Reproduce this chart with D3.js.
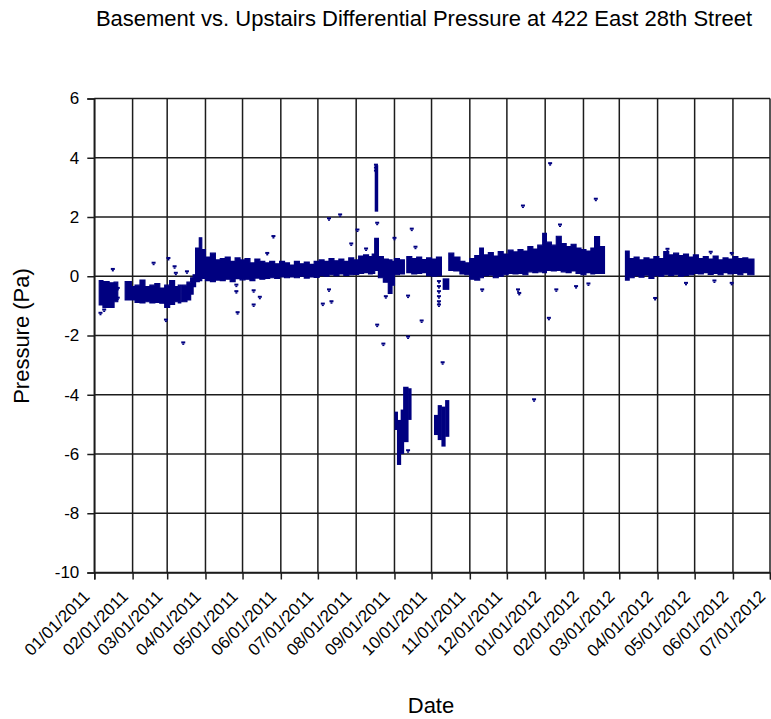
<!DOCTYPE html>
<html>
<head>
<meta charset="utf-8">
<script src="https://cdn.jsdelivr.net/npm/d3@7"></script>
<style>
  html, body { margin: 0; padding: 0; background: #fff; }
  svg { display: block; font-family: Arial, "Liberation Sans", sans-serif; }
</style>
</head>
<body>
<svg id="chart" width="771" height="719"></svg>
<script>
// ---------------- DATA ----------------
const chartTitle = "Basement vs. Upstairs Differential Pressure at 422 East 28th Street";
const yTitle = "Pressure (Pa)";
const xTitle = "Date";
const yTicks = [6, 4, 2, 0, -2, -4, -6, -8, -10];

// main data band: each entry spans until the next date; null = no data
const bandDates = [
  "2011-01-05","2011-01-08","2011-01-13","2011-01-17","2011-01-20",
  "2011-01-26","2011-01-31","2011-02-03","2011-02-07","2011-02-11","2011-02-15","2011-02-19","2011-02-23","2011-02-27",
  "2011-03-03","2011-03-07","2011-03-10","2011-03-12",
  "2011-03-13","2011-03-17","2011-03-20","2011-03-22","2011-03-24","2011-03-27","2011-03-29",
  "2011-04-01","2011-04-05","2011-04-09","2011-04-13","2011-04-17","2011-04-21","2011-04-25","2011-04-29",
  "2011-05-03","2011-05-07","2011-05-11","2011-05-15","2011-05-19","2011-05-23","2011-05-27","2011-05-31",
  "2011-06-04","2011-06-08","2011-06-12","2011-06-16","2011-06-20","2011-06-24","2011-06-28",
  "2011-07-02","2011-07-06","2011-07-10","2011-07-14","2011-07-18","2011-07-22","2011-07-26","2011-07-30",
  "2011-08-03","2011-08-07","2011-08-11","2011-08-14","2011-08-16","2011-08-19","2011-08-23","2011-08-27","2011-08-30",
  "2011-09-01","2011-09-05","2011-09-09",
  "2011-09-11","2011-09-15","2011-09-19","2011-09-23","2011-09-27",
  "2011-10-01","2011-10-05","2011-10-09",
  "2011-10-15","2011-10-19","2011-10-24","2011-10-28",
  "2011-11-01","2011-11-05","2011-11-09","2011-11-12","2011-11-16","2011-11-20","2011-11-24","2011-11-28",
  "2011-12-02","2011-12-06","2011-12-10","2011-12-14","2011-12-18","2011-12-22","2011-12-26","2011-12-30",
  "2012-01-02","2012-01-06","2012-01-10","2012-01-14","2012-01-18","2012-01-22","2012-01-26","2012-01-30",
  "2012-02-03","2012-02-07","2012-02-10","2012-02-14","2012-02-18",
  "2012-03-06","2012-03-09","2012-03-13","2012-03-17","2012-03-21","2012-03-25","2012-03-29",
  "2012-04-02","2012-04-06","2012-04-10","2012-04-14","2012-04-18","2012-04-22","2012-04-26","2012-04-30",
  "2012-05-04","2012-05-08","2012-05-12","2012-05-16","2012-05-20","2012-05-24","2012-05-28",
  "2012-06-01","2012-06-05","2012-06-09","2012-06-13","2012-06-18"
];
const bandHi = [
  -0.15,-0.18,-0.22,-0.20,null,
  -0.18,-0.35,-0.30,-0.13,-0.35,-0.30,-0.25,-0.40,-0.30,
  -0.15,-0.35,-0.30,null,
  -0.30,-0.20,-0.05,0.05,0.95,1.30,0.90,
  0.65,0.78,0.55,0.60,0.65,0.50,0.62,0.55,
  0.60,0.45,0.58,0.50,0.45,0.50,0.42,0.50,
  0.45,0.38,0.50,0.42,0.48,0.40,0.50,
  0.55,0.50,0.60,0.52,0.58,0.50,0.62,0.55,
  0.68,0.72,0.66,0.75,1.28,0.66,0.58,0.55,0.50,
  0.60,0.55,null,
  0.66,0.60,0.65,0.56,0.62,
  0.58,0.65,null,
  0.78,0.65,0.50,0.45,
  0.60,0.70,0.95,0.72,0.80,0.68,0.83,0.75,
  0.88,0.82,0.90,0.85,1.00,0.92,1.05,1.45,
  1.15,1.05,1.35,1.10,1.00,1.08,0.95,0.90,
  0.85,0.95,1.34,1.00,null,
  0.85,0.60,0.65,0.55,0.62,0.58,0.66,
  0.60,0.83,0.72,0.78,0.70,0.75,0.65,0.72,
  0.60,0.66,0.58,0.68,0.55,0.62,0.58,
  0.66,0.60,0.62,0.58,null
];
const bandLo = [
  -0.97,-1.05,-1.05,-0.86,null,
  -0.80,-0.80,-0.88,-0.90,-0.86,-0.90,-0.88,-0.91,-1.05,
  -0.95,-0.86,-0.90,null,
  -0.86,-0.80,-0.60,-0.35,-0.18,-0.15,-0.07,
  -0.15,-0.18,-0.13,-0.15,-0.10,-0.18,-0.08,-0.12,
  -0.10,-0.15,-0.06,-0.10,-0.07,-0.05,-0.07,-0.02,
  -0.05,-0.02,-0.05,0.00,-0.06,-0.02,-0.04,
  0.02,0.00,0.05,0.02,0.08,0.03,0.05,0.06,
  0.10,0.12,0.08,0.10,0.20,-0.05,-0.20,-0.58,-0.30,
  0.05,0.08,null,
  0.12,0.08,0.10,0.12,0.02,
  0.00,0.02,null,
  0.20,0.18,0.08,0.05,
  -0.10,-0.13,-0.05,0.02,0.04,-0.05,0.00,0.05,
  0.10,0.08,0.10,0.05,0.15,0.12,0.15,0.12,
  0.20,0.18,0.20,0.15,0.12,0.18,0.10,0.05,
  0.12,0.08,0.10,0.10,null,
  -0.13,-0.05,0.02,-0.03,0.04,-0.07,0.02,
  0.00,0.05,0.02,0.05,0.00,0.03,0.05,0.10,
  0.08,0.12,0.06,0.10,0.05,0.12,0.08,
  0.10,0.05,0.12,0.05,null
];

// separate clusters of readings (start date, end date, low, high)
const clusterStart = ["2011-08-16","2011-10-10",
  "2011-09-01","2011-09-03","2011-09-06","2011-09-08","2011-09-12",
  "2011-10-03","2011-10-06","2011-10-09","2011-10-12"];
const clusterEnd = ["2011-08-18","2011-10-15",
  "2011-09-03","2011-09-06","2011-09-08","2011-09-12","2011-09-14",
  "2011-10-06","2011-10-09","2011-10-12","2011-10-15"];
const clusterLo = [2.18,-0.46, -5.19,-6.37,-6.00,-5.60,-4.85, -5.36,-5.53,-5.75,-5.42];
const clusterHi = [3.75,-0.07, -4.57,-4.85,-4.50,-3.73,-3.78, -4.68,-4.35,-4.40,-4.18];

// isolated readings
const outlierDates = [
  "2011-01-06","2011-01-09","2011-01-16","2011-01-20","2011-01-20","2011-02-18","2011-02-28","2011-03-02",
  "2011-03-07","2011-03-08","2011-03-14","2011-03-17","2011-04-26","2011-04-26","2011-04-27","2011-05-10",
  "2011-05-10","2011-05-15","2011-05-21","2011-05-26","2011-07-05","2011-07-10","2011-07-10","2011-07-12",
  "2011-07-19","2011-07-28","2011-08-02","2011-08-09","2011-08-18","2011-08-18","2011-08-23","2011-08-25",
  "2011-09-01","2011-09-12","2011-09-12","2011-09-12","2011-09-15","2011-09-18","2011-09-23",
  "2011-10-07","2011-10-07","2011-10-07","2011-10-07","2011-10-07","2011-10-07","2011-10-10",
  "2011-11-11","2011-12-10","2011-12-11","2011-12-14","2011-12-23","2012-01-04","2012-01-05","2012-01-10",
  "2012-01-13","2012-01-26","2012-02-05","2012-02-11","2012-03-30","2012-04-09","2012-04-24","2012-05-14",
  "2012-05-17","2012-05-31","2012-05-31",
  "2011-08-17","2011-08-17","2011-08-17"
];
const outlierValues = [
  -1.25,-1.14,0.23,-0.41,-0.74,0.44,-1.48,0.60,
  0.32,0.10,-2.25,0.15,-0.52,-0.30,-1.23,-0.49,
  -0.97,-0.71,0.77,1.34,-0.94,-0.46,1.94,-0.86,
  2.07,1.09,1.56,0.92,1.79,-1.65,-2.29,-0.69,
  1.28,-0.67,-2.05,-5.89,1.59,0.98,-1.51,
  -0.18,-0.35,-0.52,-0.69,-0.86,-0.97,-2.92,
  -0.46,-0.46,-0.58,2.37,-4.17,-1.42,3.80,-0.46,
  1.73,-0.35,-0.26,2.60,-0.75,0.91,-0.24,0.81,
  -0.16,-0.24,0.77,
  3.75,3.65,3.55
];

// ---------------- CHART ----------------
const svg = d3.select("#chart");
const mLeft = 94.3, mRight = 770, mTop = 98.5, mBottom = 572.5;
const navy = "#000080";
const lineCol = "#1c1c1c";

const parse = d3.utcParse("%Y-%m-%d");
const x = d3.scaleUtc()
  .domain([Date.UTC(2011, 0, 1), Date.UTC(2012, 6, 1)])
  .range([mLeft, mRight]);
const y = d3.scaleLinear().domain([-10, 6]).range([mBottom, mTop]);
const monthTicks = d3.utcMonth.range(new Date(Date.UTC(2011, 0, 1)), new Date(Date.UTC(2012, 6, 2)));

// gridlines
const grid = svg.append("g");
grid.selectAll("line.h").data(yTicks).join("line")
  .attr("x1", mLeft).attr("x2", mRight)
  .attr("y1", d => y(d)).attr("y2", d => y(d))
  .attr("stroke", lineCol).attr("stroke-width", 1.5);
grid.selectAll("line.v").data(monthTicks).join("line")
  .attr("x1", d => x(d)).attr("x2", d => x(d))
  .attr("y1", mTop).attr("y2", mBottom)
  .attr("stroke", lineCol).attr("stroke-width", 1.5);

// data band as step area (gaps where value is null)
const plot = svg.append("g");
const bandPts = [];
for (let i = 0; i < bandDates.length; i++) {
  const d = parse(bandDates[i]);
  if (bandLo[i] === null) {
    // close the previous run at this date, then break
    if (i > 0 && bandLo[i - 1] !== null) bandPts.push({ d, lo: bandLo[i - 1], hi: bandHi[i - 1] });
    bandPts.push({ d, lo: null, hi: null });
  } else {
    bandPts.push({ d, lo: bandLo[i], hi: bandHi[i] });
  }
}
const area = d3.area()
  .defined(p => p.lo !== null)
  .curve(d3.curveStepAfter)
  .x(p => x(p.d))
  .y0(p => y(p.lo))
  .y1(p => y(p.hi));
plot.append("path").datum(bandPts)
  .attr("d", area)
  .attr("fill", navy)
  .attr("stroke", navy).attr("stroke-width", 1.2).attr("stroke-linejoin", "miter");

const clusterData = clusterStart.map((s, i) => ({ a: parse(s), b: parse(clusterEnd[i]), lo: clusterLo[i], hi: clusterHi[i] }));
plot.selectAll("rect.cluster").data(clusterData).join("rect")
  .attr("x", d => x(d.a))
  .attr("width", d => Math.max(3.5, x(d.b) - x(d.a) + 0.5))
  .attr("y", d => y(d.hi))
  .attr("height", d => y(d.lo) - y(d.hi))
  .attr("fill", navy);

const outData = outlierDates.map((s, i) => ({ d: parse(s), v: outlierValues[i] }));
const om = plot.selectAll("g.out").data(outData).join("g")
  .attr("transform", d => `translate(${x(d.d)},${y(d.v)})`);
om.append("rect").attr("x", -2).attr("y", -1.5).attr("width", 4).attr("height", 2).attr("fill", navy);
om.append("rect").attr("x", -1).attr("y", 0.5).attr("width", 2).attr("height", 1.5).attr("fill", navy);

// axes
const yAxis = svg.append("g").attr("transform", `translate(${mLeft},0)`)
  .call(d3.axisLeft(y).tickValues(yTicks).tickSize(7).tickPadding(8).tickFormat(d => String(d)));
const xAxis = svg.append("g").attr("transform", `translate(0,${mBottom})`)
  .call(d3.axisBottom(x).tickValues(monthTicks).tickSize(7).tickFormat(d3.utcFormat("%m/%d/%Y")));
[yAxis, xAxis].forEach(g => {
  g.select(".domain").attr("stroke", lineCol).attr("stroke-width", 1.5);
  g.selectAll(".tick line").attr("stroke", lineCol).attr("stroke-width", 1.5);
  g.selectAll("text").attr("fill", "#000").style("font-size", "17px").style("font-family", "Arial, 'Liberation Sans', sans-serif");
});
xAxis.selectAll(".tick text")
  .attr("text-anchor", "end")
  .attr("y", 0).attr("dy", 0)
  .attr("transform", "translate(-4,25) rotate(-45)");

// titles
svg.append("text").attr("x", 424).attr("y", 26)
  .attr("text-anchor", "middle").style("font-size", "22px").attr("fill", "#000")
  .text(chartTitle);
svg.append("text").attr("x", 431).attr("y", 713)
  .attr("text-anchor", "middle").style("font-size", "22px").attr("fill", "#000")
  .text(xTitle);
svg.append("text").attr("transform", "translate(29,336) rotate(-90)")
  .attr("text-anchor", "middle").style("font-size", "22px").attr("fill", "#000")
  .text(yTitle);
</script>
</body>
</html>
